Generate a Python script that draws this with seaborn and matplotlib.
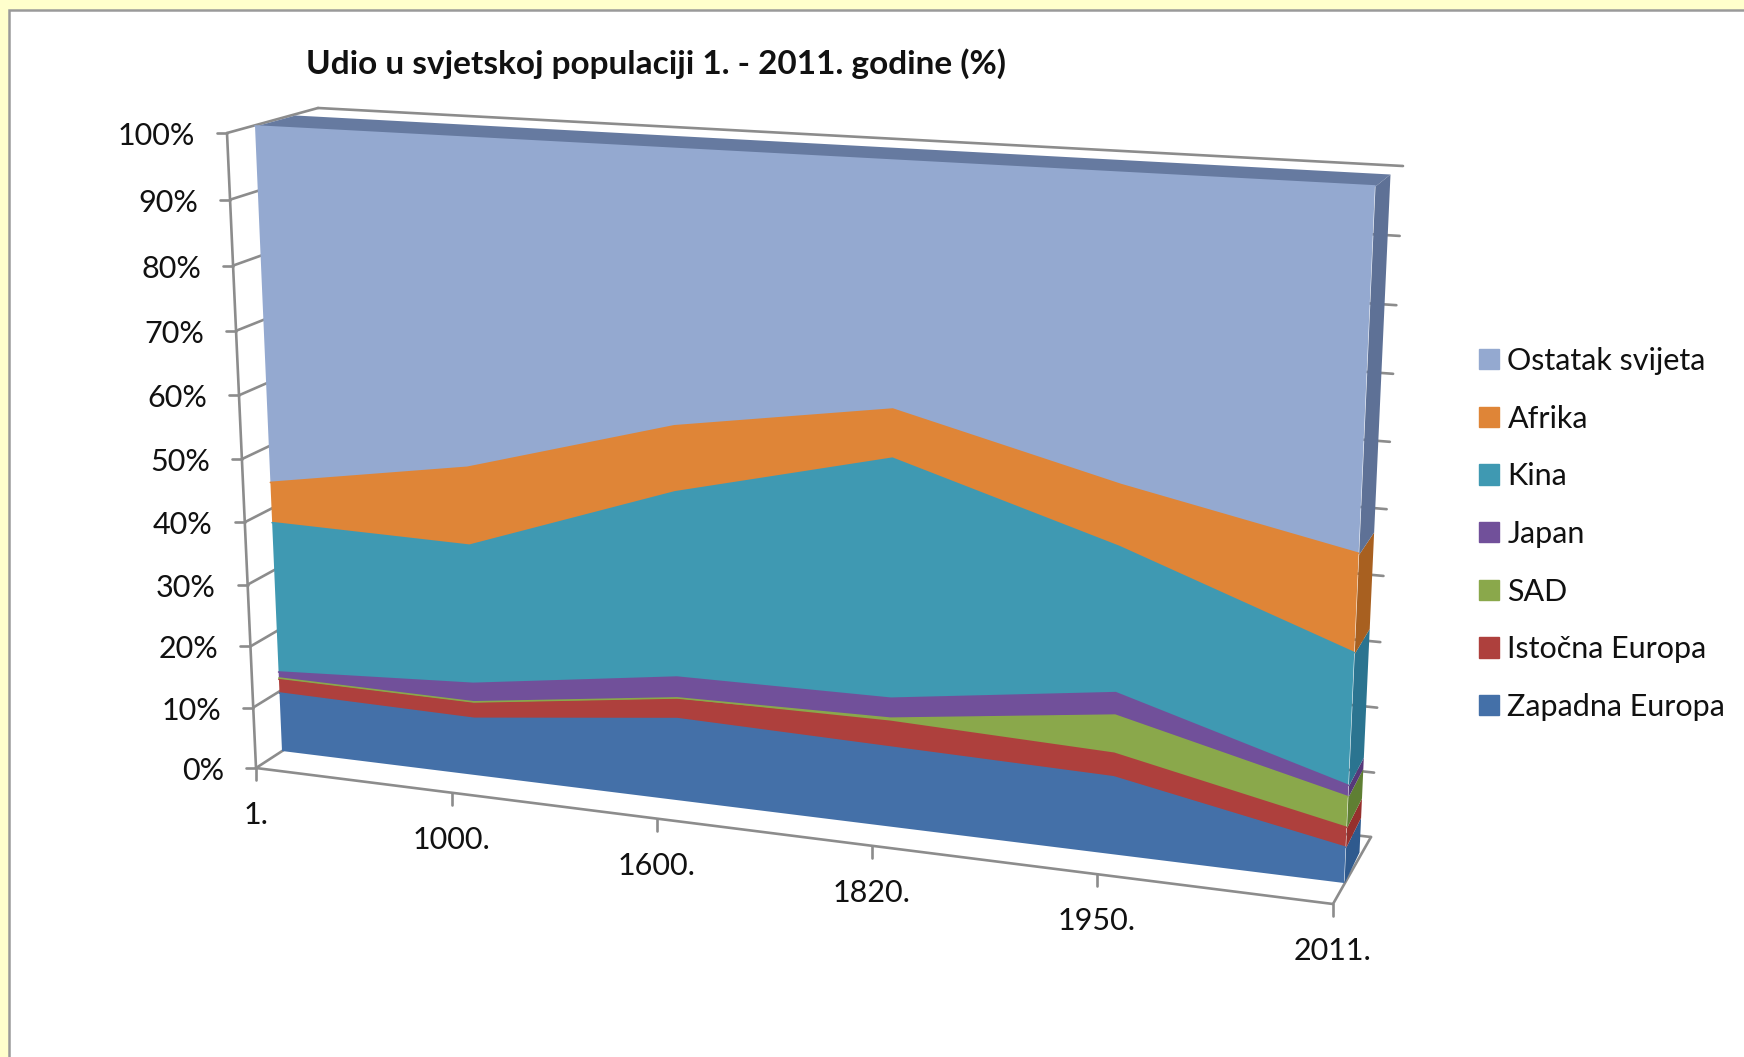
import numpy as np
import pandas as pd
import matplotlib
matplotlib.use("Agg")
import matplotlib.pyplot as plt
from matplotlib.transforms import Transform
from matplotlib.patches import Rectangle
import seaborn as sns

# ---------- data ----------
categories = ["1.", "1000.", "1600.", "1820.", "1950.", "2011."]
zapadna_europa = [9.7, 9.3, 13.1, 12.5, 11.9, 5.4]
istocna_europa = [2.3, 2.5, 3.1, 4.0, 3.6, 3.0]
sad = [0.2, 0.2, 0.2, 0.5, 5.8, 4.6]
japan = [1.0, 3.0, 3.3, 3.1, 3.4, 1.7]
kina = [24.5, 22.2, 28.9, 36.5, 21.8, 19.6]
afrika = [6.5, 12.3, 10.1, 7.3, 9.1, 14.4]
ostatak = [55.8, 50.5, 41.3, 36.1, 44.4, 51.3]
series_names = ["Zapadna Europa", "Istočna Europa", "SAD", "Japan", "Kina", "Afrika", "Ostatak svijeta"]
series_values = [zapadna_europa, istocna_europa, sad, japan, kina, afrika, ostatak]
y_ticks = [0, 10, 20, 30, 40, 50, 60, 70, 80, 90, 100]
title = "Udio u svjetskoj populaciji 1. - 2011. godine (%)"

colors = ["#4470A8", "#AE403D", "#8AA84B", "#71509A", "#3F99B2", "#DF8537", "#94A9D0"]
side_colors = ["#2F5A8E", "#96302D", "#5F7F33", "#56397A", "#2B7490", "#A86020", "#5E7196"]

sns.set_theme(style="white")
plt.rcParams["font.family"] = ["Lato", "DejaVu Sans"]


# ---------- perspective layout ----------
class Quad(Transform):
    """Projective map of the unit rectangle scaled to (xmax, ymax) onto a pixel quad."""
    input_dims = output_dims = 2
    is_affine = False

    def __init__(self, bl, br, tr, tl, xmax=1.0, ymax=1.0):
        super().__init__()
        self.xmax, self.ymax = xmax, ymax
        (x0, y0), (x1, y1), (x2, y2), (x3, y3) = bl, br, tr, tl
        dx1, dx2, sx = x1 - x2, x3 - x2, x0 - x1 + x2 - x3
        dy1, dy2, sy = y1 - y2, y3 - y2, y0 - y1 + y2 - y3
        det = dx1 * dy2 - dx2 * dy1
        g = (sx * dy2 - dx2 * sy) / det
        h = (dx1 * sy - sx * dy1) / det
        self.m = np.array([[x1 - x0 + g * x1, x3 - x0 + h * x3, x0],
                           [y1 - y0 + g * y1, y3 - y0 + h * y3, y0],
                           [g, h, 1.0]])

    def transform_non_affine(self, values):
        v = np.asarray(values, float)
        p = np.c_[v[:, 0] / self.xmax, v[:, 1] / self.ymax, np.ones(len(v))] @ self.m.T
        return p[:, :2] / p[:, 2:3]

    def inverted(self):
        raise NotImplementedError


n = len(categories) - 1
face_front = dict(bl=(282, 751), br=(1344, 883), tr=(1375, 186), tl=(255, 126))
H_face = Quad(**face_front, xmax=n, ymax=100)
H_side = Quad(bl=(1344, 883), br=(1359, 852), tr=(1390, 174), tl=(1375, 186), ymax=100)
H_top = Quad(bl=(255, 126), br=(1375, 186), tr=(1390, 174), tl=(295, 115), xmax=n)
H_front = Quad(bl=(256, 768), br=(1333, 904), tr=(1368, 194), tl=(227, 133), xmax=n, ymax=100)
H_back = Quad(bl=(333, 718), br=(1371, 837), tr=(1403, 166), tl=(318, 108), xmax=n, ymax=100)

W, H = 1744, 1057
fig = plt.figure(figsize=(W / 100, H / 100), dpi=100, facecolor="#FFFFCC")
ax = fig.add_axes([0, 0, 1, 1])
ax.set_axis_off()
px = ax.transData

# frame
ax.add_patch(Rectangle((8.5, 9.5), W, H, facecolor="white", edgecolor="#9A9A9A", lw=1.8, zorder=0))

LINE = "#8C8C8C"
LW = 1.9


def seg(h_a, a, h_b, b):
    p = np.vstack([h_a.transform(np.array([a], float)), h_b.transform(np.array([b], float))])
    ax.plot(p[:, 0], p[:, 1], color=LINE, lw=LW, solid_capstyle="round", zorder=1)


# walls and floor
for v in y_ticks:
    seg(H_front, (0, v), H_back, (0, v))
    seg(H_back, (0, v), H_back, (n, v))
seg(H_front, (0, 0), H_front, (0, 100))
seg(H_front, (0, 0), H_front, (n, 0))
seg(H_front, (n, 0), H_back, (n, 0))

# axis ticks and labels
for v in y_ticks:
    p = H_front.transform(np.array([[0, v]], float))[0]
    ax.plot([p[0] - 10, p[0]], [p[1], p[1]], color=LINE, lw=LW, zorder=1)
    ax.text(p[0] - 32, p[1] + 3, f"{v}%", ha="right", va="center", fontsize=22, color="#111111")
for i, c in enumerate(categories):
    p = H_front.transform(np.array([[i, 0]], float))[0]
    ax.plot([p[0], p[0]], [p[1], p[1] + 12], color=LINE, lw=LW, zorder=1)
    ax.text(p[0], p[1] + 47, c, ha="center", va="center", fontsize=22, color="#111111")

# top band and side band
ax.fill_between([0, n], [0, 0], [1, 1], transform=H_top + px, color="#667AA0", lw=0, zorder=2)
ax.stackplot([0, 1], [[s[-1], s[-1]] for s in series_values], colors=side_colors,
              transform=H_side + px, lw=0, zorder=2)

# stacked areas on the front face
xs = np.arange(len(categories))
polys = ax.stackplot(xs, series_values, colors=colors, labels=series_names,
                     transform=H_face + px, edgecolor="none", lw=0, zorder=3)

# series boundaries
tops = np.cumsum(series_values, axis=0)
long_df = pd.DataFrame({
    "x": np.tile(xs, len(series_names)),
    "top": tops.ravel(),
    "serie": np.repeat(series_names, len(xs)),
})
sns.lineplot(data=long_df, x="x", y="top", hue="serie", palette=dict(zip(series_names, colors)),
             transform=H_face + px, lw=1.2, legend=False, ax=ax, zorder=4, errorbar=None)

ax.set_xlim(0, W)
ax.set_ylim(H, 0)
ax.set_xlabel("")
ax.set_ylabel("")

# title
ax.text(306, 64, title, ha="left", va="center", fontsize=24, fontweight="bold", color="#111111")

# legend
handles = [Rectangle((0, 0), 1, 1, color=c) for c in colors[::-1]]
ax.legend(handles, series_names[::-1], loc="upper left", bbox_to_anchor=(1479 / W, 1 - 347 / H),
          frameon=False, fontsize=22, handlelength=0.65, handleheight=0.65, handletextpad=0.28,
          labelspacing=0.97, borderpad=0, borderaxespad=0, labelcolor="#111111")

fig.savefig("out.png", dpi=100, facecolor=fig.get_facecolor())
